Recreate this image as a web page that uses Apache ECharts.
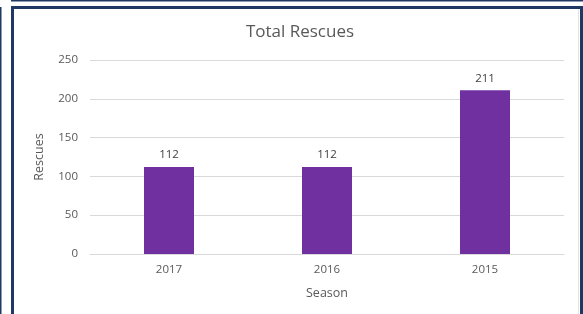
<!DOCTYPE html>
<html>
<head>
<meta charset="utf-8">
<script src="https://cdn.jsdelivr.net/npm/echarts@6.0.0/dist/echarts.min.js"></script>
<style>
  html, body { margin: 0; padding: 0; background: #ffffff; }
  #chart { width: 583px; height: 314px; }
</style>
</head>
<body>
<div id="chart"></div>
<script>
const seasons = ['2017', '2016', '2015'];
const rescues = [112, 112, 211];
const yTicks = [0, 50, 100, 150, 200, 250];

const fontFamily = '"Open Sans", "Noto Sans", sans-serif';
const navy = '#1f3864';

const chart = echarts.init(document.getElementById('chart'));

const option = {
  backgroundColor: '#ffffff',
  animation: false,
  title: {
    text: 'Total Rescues',
    left: 295,
    top: 19,
    textAlign: 'center',
    textStyle: { fontFamily, fontSize: 17, fontWeight: 'normal', color: '#595959' }
  },
  grid: { left: 90, right: 19, top: 60, bottom: 60 },
  xAxis: {
    type: 'category',
    data: seasons,
    name: 'Season',
    nameLocation: 'middle',
    nameGap: 33,
    nameTextStyle: { fontFamily, fontSize: 12.5, color: '#595959' },
    axisLine: { lineStyle: { color: '#d9d9d9' } },
    axisTick: { show: false },
    axisLabel: { fontFamily, fontSize: 11.5, color: '#595959', margin: 10 },
  },
  yAxis: {
    type: 'value',
    min: yTicks[0],
    max: yTicks[yTicks.length - 1],
    interval: 50,
    name: 'Rescues',
    nameLocation: 'middle',
    nameGap: 44,
    nameRotate: 90,
    nameTextStyle: { fontFamily, fontSize: 12.5, color: '#595959' },
    axisLine: { show: false },
    axisTick: { show: false },
    axisLabel: { fontFamily, fontSize: 11.5, color: '#595959', margin: 12 },
    splitLine: { lineStyle: { color: '#d9d9d9' } }
  },
  series: [{
    type: 'bar',
    data: rescues,
    barWidth: 50,
    itemStyle: { color: '#7030a0' },
    label: {
      show: true,
      position: 'top',
      distance: 6,
      fontFamily,
      fontSize: 11.5,
      color: '#404040'
    }
  }],
  graphic: [
    { type: 'rect', shape: { x: 12.5, y: 7.5, width: 569, height: 400 },
      style: { fill: 'none', stroke: navy, lineWidth: 3 }, silent: true },
    { type: 'rect', shape: { x: 11, y: 0, width: 572, height: 1.5 },
      style: { fill: navy }, silent: true },
    { type: 'rect', shape: { x: 0, y: 7, width: 1.5, height: 307 },
      style: { fill: navy }, silent: true },
    { type: 'rect', shape: { x: 578, y: 9, width: 1, height: 305 },
      style: { fill: '#e3e3e3' }, silent: true }
  ]
};

chart.setOption(option);
</script>
</body>
</html>
